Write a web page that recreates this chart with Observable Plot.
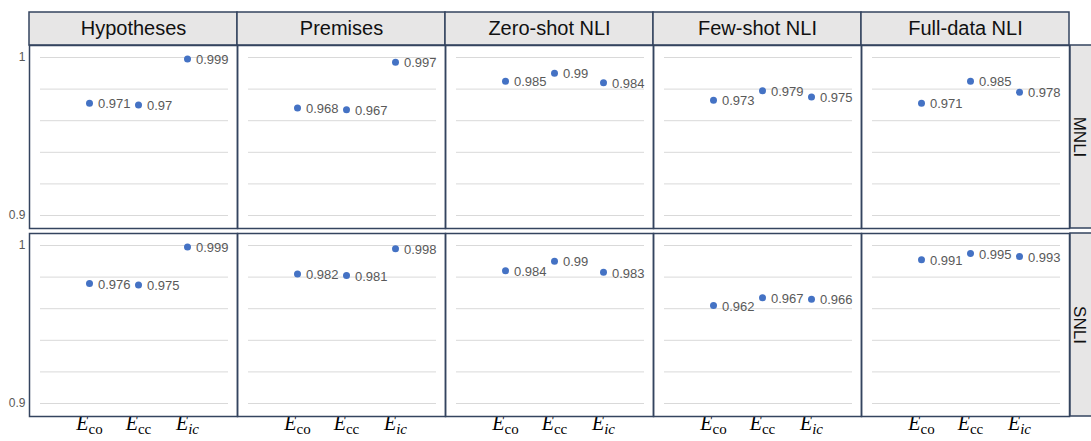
<!DOCTYPE html>
<html><head><meta charset="utf-8">
<script src="https://cdn.jsdelivr.net/npm/d3@7"></script>
<script src="https://cdn.jsdelivr.net/npm/@observablehq/plot@0.6"></script>
<style>
html,body{margin:0;padding:0;background:#fff;overflow:hidden}
#chart{position:relative;width:1091px;height:441px;overflow:hidden}
#header{position:absolute;left:0;top:12px;width:1091px}
#main{position:absolute;left:0;top:45px;width:1091px}
#strip{position:absolute;left:1070px;top:45px;width:26px}
svg{overflow:visible;max-width:none !important}
</style></head><body>
<div id="chart"><div id="header"></div><div id="main"></div><div id="strip"></div></div>
<script>
// ---- data ----
const sources = ["Hypotheses", "Premises", "Zero-shot NLI", "Few-shot NLI", "Full-data NLI"];
const datasets = ["MNLI", "SNLI"];
const metrics = ["co", "cc", "ic"];            // shown as E_co, E_cc, E_ic
const mnliValues = [
  [0.971, 0.97, 0.999],
  [0.968, 0.967, 0.997],
  [0.985, 0.99, 0.984],
  [0.973, 0.979, 0.975],
  [0.971, 0.985, 0.978]
];
const snliValues = [
  [0.976, 0.975, 0.999],
  [0.982, 0.981, 0.998],
  [0.984, 0.99, 0.983],
  [0.962, 0.967, 0.966],
  [0.991, 0.995, 0.993]
];
const yTickLabels = [0.9, 1];
const gridValues = [0.9, 0.92, 0.94, 0.96, 0.98, 1];

// ---- table ----
const rows = [];
sources.forEach((s, i) => metrics.forEach((m, j) => {
  rows.push({source: s, dataset: "MNLI", metric: m, value: mnliValues[i][j]});
  rows.push({source: s, dataset: "SNLI", metric: m, value: snliValues[i][j]});
}));

const FONT = "'Liberation Sans', Arial, sans-serif";
const BORDER = "#34445f";
const HEAD = "#e7e6e6";

// ---- header ----
const header = Plot.plot({
  width: 1091, height: 33,
  marginTop: 0, marginBottom: 0, marginLeft: 28, marginRight: 21,
  style: {fontFamily: FONT, overflow: "visible", background: "transparent"},
  x: {type: "band", domain: sources, padding: 0, axis: null},
  marks: [
    Plot.cell(sources, {x: d => d, fill: HEAD, stroke: BORDER, strokeWidth: 1.5}),
    Plot.text(sources, {x: d => d, text: d => d, fontSize: 20, fill: "#111"})
  ]
});
document.getElementById("header").append(header);

// ---- main panels ----
const main = Plot.plot({
  width: 1091, height: 396,
  marginTop: 0, marginBottom: 25, marginLeft: 28, marginRight: 21,
  style: {fontFamily: FONT, fontSize: "12px", overflow: "visible", background: "transparent"},
  fx: {domain: sources, padding: 0, axis: null},
  fy: {domain: datasets, paddingInner: 0.027, paddingOuter: 0, axis: null},
  x: {type: "point", domain: metrics, padding: 0, insetLeft: 59, insetRight: 50, tickSize: 0, tickPadding: 5, label: null},
  y: {domain: [0.9, 1], insetTop: 12, insetBottom: 13, ticks: yTickLabels, tickSize: 0, tickPadding: 4, tickFormat: d => String(d), label: null},
  marks: [
    Plot.ruleY(gridValues, {stroke: "#d9d9d9", strokeWidth: 1, insetLeft: 11, insetRight: 9}),
    Plot.frame({stroke: BORDER, strokeWidth: 1.5}),
    Plot.dot(rows, {fx: "source", fy: "dataset", x: "metric", y: "value", r: 3.5, fill: "#4472c4", stroke: "none"}),
    Plot.text(rows, {fx: "source", fy: "dataset", x: "metric", y: "value", text: d => String(d.value),
      dx: 8.5, dy: 1, textAnchor: "start", fill: "#595959", fontSize: 13})
  ]
});
document.getElementById("main").append(main);

// style axes
d3.select(main).selectAll('g[aria-label^="y-axis"] text')
  .attr("fill", "#595959").style("font-size", "12px");
d3.select(main).selectAll('g[aria-label^="x-axis"] text').each(function() {
  const t = d3.select(this);
  const key = t.text().trim();
  if (!metrics.includes(key)) return;
  t.text("").attr("fill", "#000").style("font-family", "'Liberation Serif', 'DejaVu Serif', serif");
  t.append("tspan").text("E").style("font-style", "italic").style("font-size", "20px");
  t.append("tspan").text(key).style("font-style", key === "ic" ? "italic" : "normal")
    .style("font-size", "15px").attr("dy", "4");
});

// ---- right strip ----
const strip = Plot.plot({
  width: 26, height: 371,
  marginTop: 0, marginBottom: 0, marginLeft: 0, marginRight: 0,
  style: {fontFamily: FONT, overflow: "visible", background: "transparent"},
  y: {type: "band", domain: datasets, paddingInner: 0.027, paddingOuter: 0, axis: null},
  marks: [
    Plot.cell(datasets, {y: d => d, fill: HEAD, stroke: BORDER, strokeWidth: 1.5}),
    Plot.text(datasets, {y: d => d, text: d => d, rotate: 90, dx: -4, fontSize: 17, fill: "#111"})
  ]
});
document.getElementById("strip").append(strip);
</script>
</body></html>
